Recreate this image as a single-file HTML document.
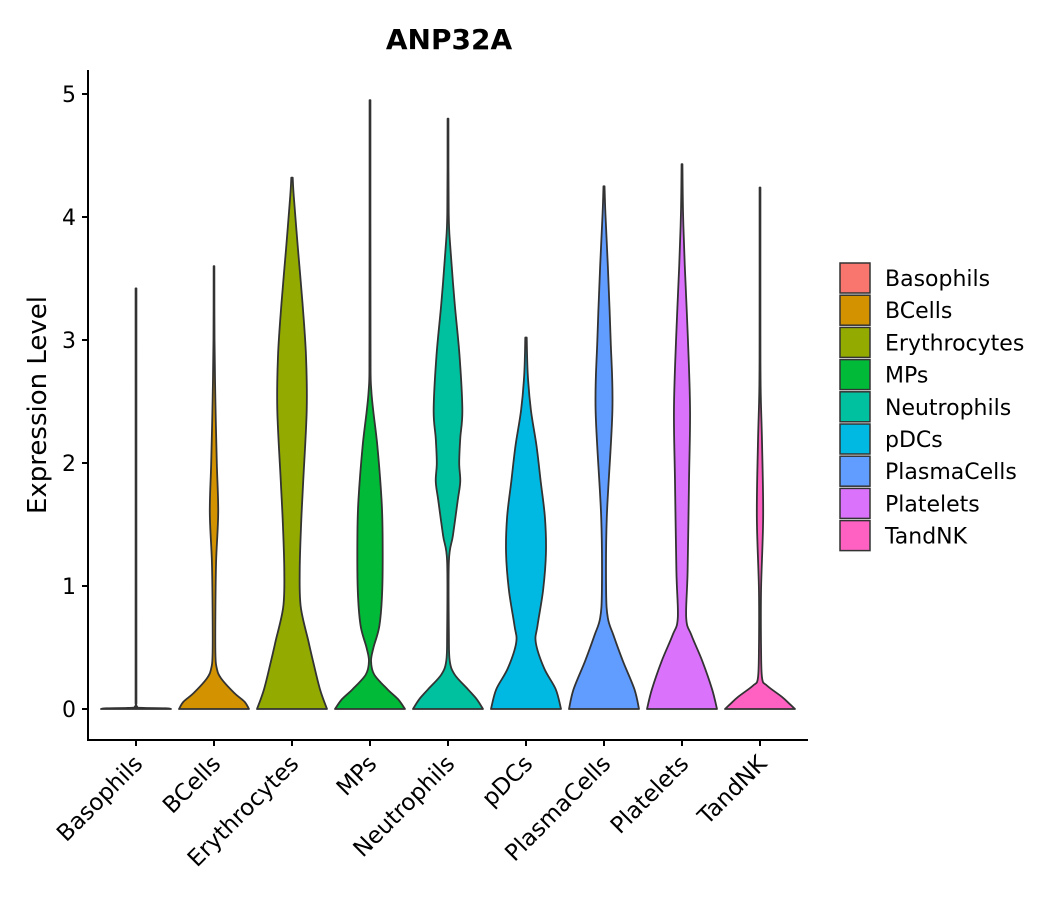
<!DOCTYPE html>
<html><head><meta charset="utf-8"><style>
body{margin:0;background:#fff;}
svg text{font-family:"DejaVu Sans","Liberation Sans",sans-serif;fill:#000;}
</style></head><body>
<svg id="chart" width="1057" height="900">
<text x="449" y="49" text-anchor="middle" font-size="28" font-weight="bold">ANP32A</text>
<text transform="translate(46,405) rotate(-90)" text-anchor="middle" font-size="26">Expression Level</text>
<g id="plot"></g>
<g id="axes"></g>
<g id="legend"></g>
</svg>
<script>
const categories=["Basophils","BCells","Erythrocytes","MPs","Neutrophils","pDCs","PlasmaCells","Platelets","TandNK"];
const colors=["#F8766D","#D39200","#93AA00","#00BA38","#00C19F","#00B9E3","#619CFF","#DB72FB","#FF61C3"];
const yTicks=[0,1,2,3,4,5];
// density profiles: [expression, relative half-width]
const dBasophils=[[0,1],[0.006,0.85],[0.012,0.03],[0.05,0.012],[3.42,0.012]];
const dBCells=[[0,1],[0.06,0.87],[0.13,0.58],[0.25,0.2],[0.33,0.08],[0.45,0.04],[0.8,0.04],[1.2,0.06],[1.6,0.12],[2.0,0.08],[2.5,0.04],[3.0,0.015],[3.6,0.01]];
const dErythrocytes=[[0,1],[0.16,0.8],[0.39,0.6],[0.55,0.47],[0.83,0.25],[1.12,0.22],[1.5,0.26],[1.85,0.32],[2.43,0.42],[2.87,0.4],[3.3,0.3],[3.74,0.17],[4.17,0.05],[4.32,0.02]];
const dMPs=[[0,1],[0.08,0.8],[0.16,0.5],[0.28,0.12],[0.39,0.03],[0.5,0.1],[0.68,0.27],[0.97,0.35],[1.41,0.36],[1.7,0.33],[2.14,0.21],[2.58,0.04],[3.0,0.015],[4.95,0.012]];
const dNeutrophils=[[0,1],[0.08,0.82],[0.16,0.57],[0.28,0.19],[0.39,0.05],[0.6,0.025],[1.2,0.025],[1.41,0.14],[1.7,0.28],[1.85,0.35],[2.0,0.32],[2.2,0.35],[2.43,0.41],[2.87,0.33],[3.3,0.19],[3.74,0.07],[4.03,0.02],[4.8,0.012]];
const dpDCs=[[0,1],[0.16,0.85],[0.33,0.52],[0.54,0.28],[0.68,0.33],[0.97,0.49],[1.27,0.57],[1.56,0.54],[1.85,0.42],[2.14,0.3],[2.43,0.14],[2.72,0.05],[3.02,0.02]];
const dPlasmaCells=[[0,1],[0.16,0.87],[0.39,0.54],[0.6,0.27],[0.74,0.11],[0.97,0.06],[1.56,0.08],[2.43,0.24],[3.0,0.19],[3.6,0.11],[4.03,0.04],[4.25,0.015]];
const dPlatelets=[[0,1],[0.16,0.86],[0.39,0.58],[0.6,0.27],[0.74,0.12],[1.12,0.16],[1.85,0.2],[2.43,0.23],[3.0,0.17],[3.6,0.08],[4.03,0.03],[4.43,0.012]];
const dTandNK=[[0,1],[0.04,0.85],[0.1,0.62],[0.19,0.2],[0.25,0.06],[0.5,0.03],[0.97,0.03],[1.56,0.09],[2.14,0.06],[2.58,0.02],[3.0,0.012],[4.24,0.012]];
const densities=[dBasophils,dBCells,dErythrocytes,dMPs,dNeutrophils,dpDCs,dPlasmaCells,dPlatelets,dTandNK];

const NS="http://www.w3.org/2000/svg";
const X0=88,X1=808,Y0=740;
const y=v=>709-v*123;
const x=i=>136+i*78;
const HW=35;
function mk(t,a,p){const e=document.createElementNS(NS,t);for(const k in a)e.setAttribute(k,a[k]);p.appendChild(e);return e;}
function clamp(v,a,b){const lo=Math.min(a,b),hi=Math.max(a,b);return Math.max(lo,Math.min(hi,v));}
function smooth(pts,start){let d=start?"M"+pts[0][0]+","+pts[0][1]:" L"+pts[0][0]+","+pts[0][1];
 for(let i=0;i<pts.length-1;i++){const p0=pts[Math.max(0,i-1)],p1=pts[i],p2=pts[i+1],p3=pts[Math.min(pts.length-1,i+2)];
  const c1=[p1[0]+(p2[0]-p0[0])/6,clamp(p1[1]+(p2[1]-p0[1])/6,p1[1],p2[1])],c2=[p2[0]-(p3[0]-p1[0])/6,clamp(p2[1]-(p3[1]-p1[1])/6,p1[1],p2[1])];
  d+=` C${c1[0]},${c1[1]} ${c2[0]},${c2[1]} ${p2[0]},${p2[1]}`;}return d;}
const plot=document.getElementById('plot');
densities.forEach((dd,i)=>{
 const cx=x(i);
 const right=dd.map(p=>[cx+p[1]*HW,y(p[0])]);
 const left=dd.slice().reverse().map(p=>[cx-p[1]*HW,y(p[0])]);
 const d=smooth(right,true)+smooth(left,false)+" Z";
 const el=mk('path',{d:d,fill:colors[i],stroke:"#333","stroke-width":1.8,"stroke-linejoin":"round"},plot);
 
 
});
const ax=document.getElementById('axes');
let a=mk('line',{x1:X0,y1:70,x2:X0,y2:Y0+1,stroke:"#000","stroke-width":2},ax);

a=mk('line',{x1:X0-1,y1:Y0,x2:X1,y2:Y0,stroke:"#000","stroke-width":2},ax);

yTicks.forEach(v=>{
 mk('line',{x1:X0-6,y1:y(v),x2:X0,y2:y(v),stroke:"#000","stroke-width":2},ax);
 const t=mk('text',{x:X0-12,y:y(v)+8,"text-anchor":"end","font-size":22},ax);t.textContent=v;
 
});
categories.forEach((c,i)=>{
 mk('line',{x1:x(i),y1:Y0,x2:x(i),y2:Y0+6,stroke:"#000","stroke-width":2},ax);
 const t=mk('text',{transform:`translate(${x(i)+8},${Y0+25}) rotate(-45)`,"text-anchor":"end","font-size":23},ax);t.textContent=c;
 
});
const lg=document.getElementById('legend');
categories.forEach((c,i)=>{
 const g=mk('g',{},lg);
 
 
 mk('rect',{x:840,y:263+i*32.2,width:30,height:30,fill:colors[i],stroke:"#333","stroke-width":1.5},g);
 const t=mk('text',{x:885,y:286+i*32.2,"font-size":22},g);t.textContent=c;
});
</script>
</body></html>
